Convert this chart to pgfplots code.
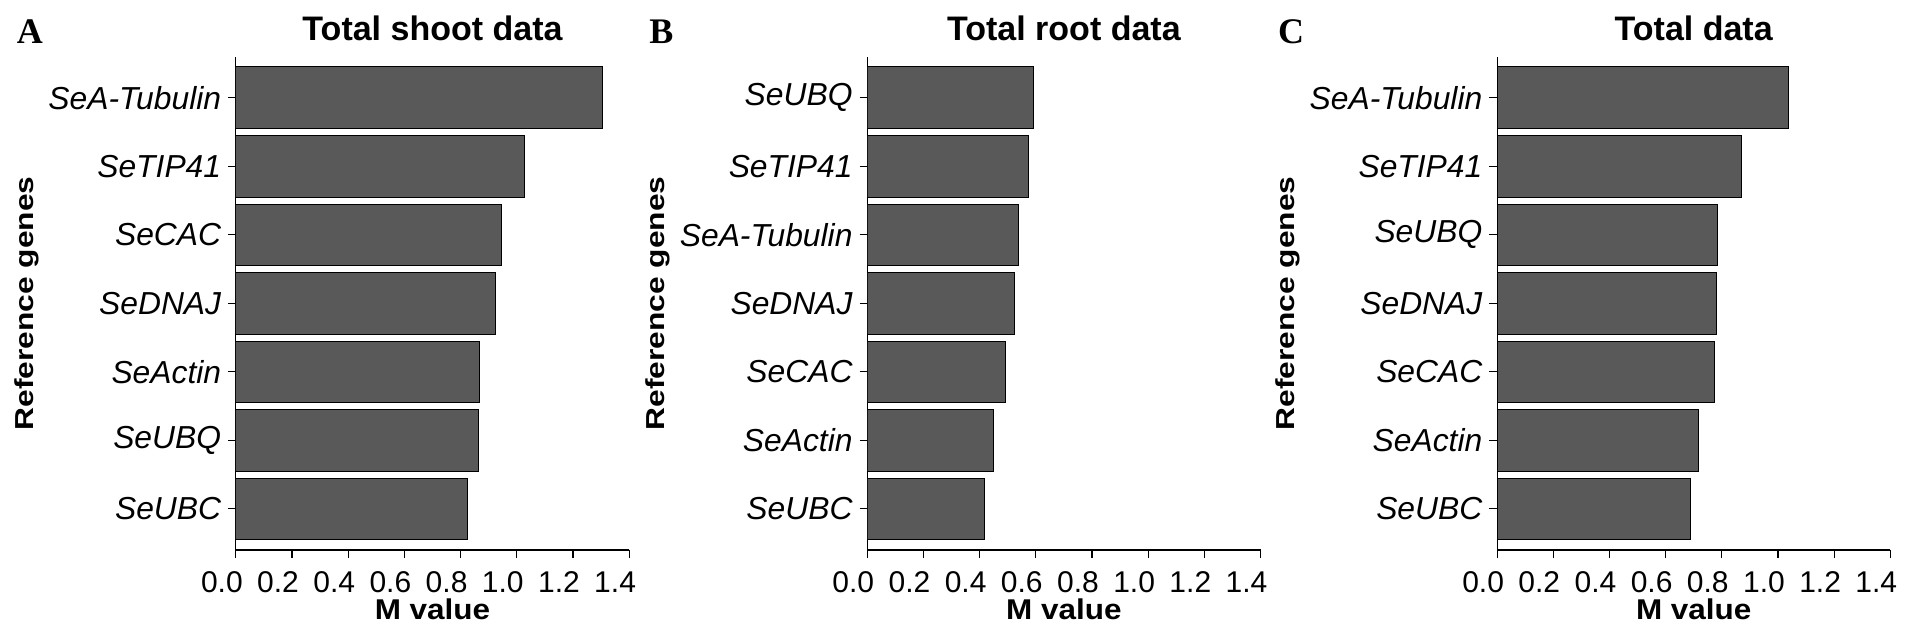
\documentclass[border=0pt]{standalone}
\usepackage{fontspec}
\setmainfont{Liberation Sans}
\newfontfamily\letterfont{Liberation Serif}
\usepackage{pgfplots}
\pgfplotsset{compat=1.18}

\definecolor{barfill}{HTML}{595959}

% common look of the three panels
\pgfplotsset{
  genebars/.style={
    scale only axis, width=196.6pt, height=246.65pt,
    anchor=south west,
    xbar, bar width=0.9,
    xmin=0, xmax=1.4, ymin=0.4, ymax=7.6,
    enlarge x limits=false, enlarge y limits=false,
    axis lines=left, axis line style={-, line width=0.6pt},
    tick align=outside, major tick length=3.9pt,
    major tick style={black, line width=0.6pt},
    xtick={0,0.2,0.4,0.6,0.8,1,1.2,1.4},
    ytick={1,2,3,4,5,6,7},
    xticklabel style={font=\fontsize{15}{15}\selectfont, inner sep=0pt,
      anchor=north, yshift=-6.7pt, xshift=-7pt},
    yticklabel style={font=\fontsize{15.9}{15.9}\selectfont\itshape,
      inner sep=0pt, anchor=east, xshift=-3.3pt},
    % the default title style already shifts by 6pt; cancel it
    title style={font=\bfseries\fontsize{17}{17}\selectfont,
      at={(axis description cs:0.5,1.0324)}, anchor=base, yshift=-6pt},
    xlabel={\scalebox{1.1}[1]{M value}},
    xlabel style={font=\bfseries\fontsize{14.3}{14.3}\selectfont, inner sep=0pt,
      at={(axis description cs:0.5,-0.1405)}, anchor=base},
    ylabel={\scalebox{1.22}[1]{Reference genes}},
    ylabel style={font=\bfseries\fontsize{13}{13}\selectfont, inner sep=0pt,
      at={(axis description cs:-0.5315,0.5)}, anchor=center},
    clip mode=individual,
    /pgf/number format/fixed,
    /pgf/number format/fixed zerofill,
    /pgf/number format/precision=1,
    /pgf/number format/assume math mode=true,
  },
}
\tikzset{panelletter/.style={font=\letterfont\bfseries\fontsize{18}{18}\selectfont, anchor=base}}

\begin{document}
\begin{tikzpicture}
\useasboundingbox (0,0) rectangle (953.5pt,319.5pt);

% A: total shoot data
\begin{axis}[genebars, at={(117.95pt,44.5pt)},
    title={Total shoot data},
    yticklabels={SeUBC,SeUBQ,SeActin,SeDNAJ,SeCAC,SeTIP41,SeA-Tubulin}]
  \addplot[fill=barfill, draw=black, line width=0.5pt] coordinates {
    (1.307,7) (1.029,6) (0.946,5) (0.923,4) (0.866,3) (0.864,2) (0.826,1)};
  \node[panelletter] at (axis description cs:-0.524,1.0272) {A};
\end{axis}

% B: total root data
\begin{axis}[genebars, at={(433.65pt,44.5pt)},
    title={Total root data},
    yticklabels={SeUBC,SeActin,SeCAC,SeDNAJ,SeA-Tubulin,SeTIP41,SeUBQ}]
  \addplot[fill=barfill, draw=black, line width=0.5pt] coordinates {
    (0.593,7) (0.574,6) (0.539,5) (0.525,4) (0.493,3) (0.449,2) (0.419,1)};
  \node[panelletter] at (axis description cs:-0.524,1.0272) {B};
\end{axis}

% C: total data
\begin{axis}[genebars, at={(748.55pt,44.5pt)},
    title={Total data},
    yticklabels={SeUBC,SeActin,SeCAC,SeDNAJ,SeUBQ,SeTIP41,SeA-Tubulin}]
  \addplot[fill=barfill, draw=black, line width=0.5pt] coordinates {
    (1.038,7) (0.871,6) (0.783,5) (0.780,4) (0.775,3) (0.717,2) (0.689,1)};
  \node[panelletter] at (axis description cs:-0.524,1.0272) {C};
\end{axis}
\end{tikzpicture}
\end{document}
